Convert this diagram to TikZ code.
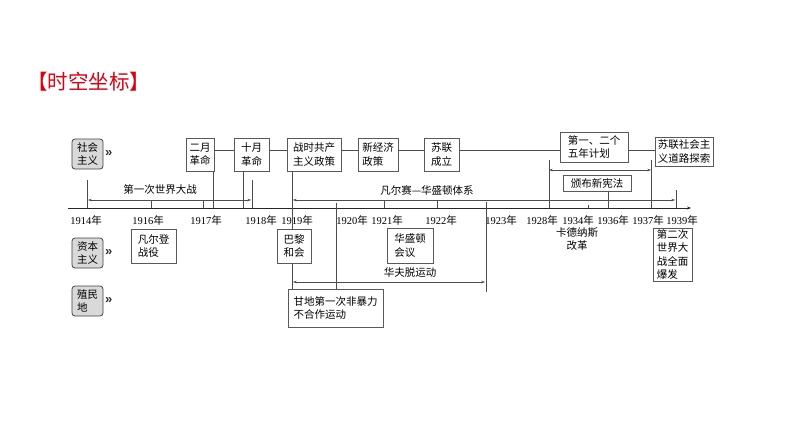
\documentclass[tikz,border=0pt]{standalone}
\usepackage{fontspec}
\setmainfont{Liberation Serif}
\newfontfamily\cjk{Noto Sans CJK SC}
\newfontfamily\arrfont{Liberation Sans}
\usetikzlibrary{arrows.meta,positioning}
\definecolor{titlered}{RGB}{220,0,16}
\newcommand{\nian}[1]{#1{\cjk 年}}
\tikzstyle{evt} = [draw=black!65, fill=white, rectangle, inner sep=1.5pt, align=left, font=\cjk\fontsize{10.5}{13.5}\selectfont]
\tikzstyle{cat} = [draw=black!75, fill=black!15, rounded corners=3pt, line width=0.8pt, inner sep=1pt, minimum width=31pt, minimum height=30pt, align=left, font=\cjk\fontsize{10.5}{13.5}\selectfont]
\tikzstyle{chev} = [inner sep=0pt, font=\arrfont\bfseries\fontsize{13}{13}\selectfont, black!80]
\tikzstyle{yr} = [inner sep=0pt, font=\fontsize{10.5}{12}\selectfont]
\tikzstyle{lbl} = [inner sep=0pt, align=center, font=\cjk\fontsize{10.5}{13.5}\selectfont]
\tikzstyle{spanarr} = [{Stealth[length=3.5pt,width=2.5pt]}-{Stealth[length=3.5pt,width=2.5pt]}]

\begin{document}
\begin{tikzpicture}[x=1pt, y=-1pt, line width=0.6pt, draw=black!70]
        \useasboundingbox (0,0) rectangle (794,447);
        \node[anchor=west, inner sep=0pt, text=titlered, font=\cjk\fontsize{20.5}{20.5}\selectfont] (title) at (27,82) {【时空坐标】};

        % categories
        \node[cat] (shehui) at (87.5,154) {社会\\主义};
        \node[cat] (ziben) at (87.5,253) {资本\\主义};
        \node[cat] (zhimin) at (87.5,301) {殖民\\地};
        \node[chev, right=1.5pt of shehui] (shehuic) {»};
        \node[chev, right=1.5pt of ziben] (zibenc) {»};
        \node[chev, right=1.5pt of zhimin] (zhiminc) {»};

        % upper events
        \node[evt, minimum width=28pt, minimum height=33pt] (ermon) at (200,154.5) {二月\\革命};
        \node[evt, minimum width=35pt, minimum height=33pt] (shiyue) at (251.5,154.5) {十月\\革命};
        \node[evt, minimum width=54pt, minimum height=33pt] (zhanshi) at (314,154.5) {战时共产\\主义政策};
        \node[evt, minimum width=40pt, minimum height=33pt] (xinjingji) at (378,154.5) {新经济\\政策};
        \node[evt, minimum width=35pt, minimum height=33pt] (sulian) at (441.5,154.5) {苏联\\成立};
        \node[evt, minimum width=68pt, minimum height=30pt] (wunian) at (594,147) {第一、二个\\五年计划};
        \node[evt, minimum width=58pt, minimum height=29pt] (tansuo) at (684,151.5) {苏联社会主\\义道路探索};
        \node[evt, minimum width=68pt, minimum height=16pt, inner sep=1pt] (xianfa) at (597,183) {颁布新宪法};

        % lower events
        \node[evt, minimum width=45pt, minimum height=34pt] (verdun) at (153.5,246) {凡尔登\\战役};
        \node[evt, minimum width=46pt, minimum height=35pt] (huasheng) at (410,245.5) {华盛顿\\会议};
        \node[evt, minimum width=95pt, minimum height=38pt] (gandhi) at (335.5,308) {甘地第一次非暴力\\不合作运动};
        \node[evt, minimum width=34pt, minimum height=34pt] (bali) at (294,246) {巴黎\\和会};
        \node[evt, minimum width=39pt, minimum height=53pt] (erzhan) at (672.5,254.5) {第二次\\世界大\\战全面\\爆发};
        \node[lbl] (kadenasi) at (577,239) {卡德纳斯\\改革};

        % time axis
        \coordinate (axisL) at (68,208);
        \coordinate (axisR) at (691,208);
        \draw[black!85, -{Stealth[length=4pt,width=3pt]}] (axisL) -- (axisR);
        \foreach \x/\y in {86/1914, 148/1916, 206/1917, 261/1918, 297/1919, 352/1920, 387/1921,
                441/1922, 501/1923, 542/1928, 578/1934, 613/1936, 648/1937, 682/1939}
            \node[yr] (y\y) at (\x,220) {\nian{\y}};
        \foreach \x in {151,203,384,437}
            \draw (\x,201) -- (\x,208);
        \draw (588,205) -- (588,208);

        % vertical marks
        \foreach \x/\t in {87/180, 252/180, 549/160, 651/160, 676/190}
            \draw (\x,\t) -- (\x,208);
        \coordinate (x1917b) at (213,208);
        \coordinate (x1917c) at (243,208);
        \coordinate (x1919) at (292,208);
        \coordinate (x1920) at (336,203);
        \coordinate (x1923) at (486,202);
        \coordinate (x1923b) at (486,292);
        \coordinate (x1936) at (608,208);
        \draw (ermon.south -| x1917b) -- (x1917b);
        \draw (shiyue.south -| x1917c) -- (x1917c);
        \draw (zhanshi.south -| x1919) -- (bali.north -| x1919);
        \draw (bali.south -| x1919) -- (gandhi.north -| x1919);
        \draw (x1920) -- (gandhi.north -| x1920);
        \draw (x1923) -- (x1923b);
        \draw (xianfa.south -| x1936) -- (x1936);

        % upper row links
        \coordinate (row) at (0,150);
        \foreach \a/\b in {ermon/shiyue, shiyue/zhanshi, zhanshi/xinjingji, xinjingji/sulian,
                sulian/wunian, wunian/tansuo}
            \draw (\a.east |- row) -- (\b.west |- row);

        % periods
        \coordinate (wwiL) at (88,200);
        \coordinate (wwiR) at (251,200);
        \coordinate (vwL) at (293,200);
        \coordinate (vwR) at (675,200);
        \coordinate (fpL) at (549,170);
        \coordinate (fpR) at (651,170);
        \coordinate (wfL) at (293,282);
        \coordinate (wfR) at (485,282);
        \draw[spanarr] (wwiL) -- (wwiR);
        \draw[spanarr] (vwL) -- (vwR);
        \draw[spanarr] (fpL) -- (fpR);
        \draw[spanarr] (wfL) -- (wfR);
        \node[lbl] (wwi) at (160,190) {第一次世界大战};
        \node[lbl] (vw) at (427,190) {凡尔赛—华盛顿体系};
        \node[lbl] (wafd) at (410,273) {华夫脱运动};
\end{tikzpicture}
\end{document}
